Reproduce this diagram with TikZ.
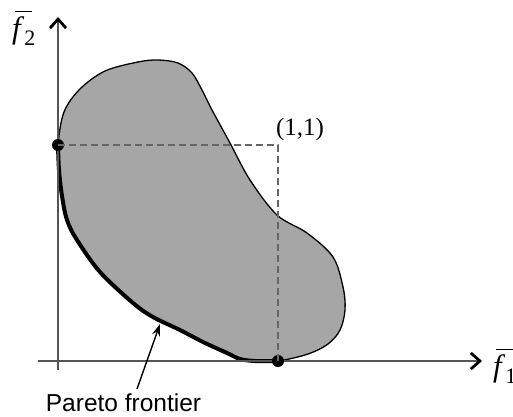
\documentclass[tikz,border=0pt]{standalone}
\usepackage{fontspec}
\setmainfont{Liberation Serif}
\newfontfamily\sansf{Liberation Sans}
\usetikzlibrary{arrows.meta}
\definecolor{regiongray}{HTML}{A6A6A6}
\definecolor{axisgray}{HTML}{555555}
\definecolor{dashgray}{HTML}{666666}
\newcommand{\barf}[1]{{\fontsize{31}{34}\selectfont\rlap{\hspace{3pt}\raisebox{26pt}{\rule{17pt}{1.4pt}}}\textit{f}}\raisebox{-7pt}{\fontsize{22}{24}\selectfont #1}}
\tikzset{
  axisline/.style={axisgray, line width=1.8pt, -{Straight Barb[length=9pt,width=16pt,line width=2.8pt,color=black]}},
  dashline/.style={dashgray, line width=1.8pt, dash pattern=on 7pt off 4pt},
  region/.style={fill=regiongray, draw=black, line width=1.3pt},
  frontierline/.style={black, line width=4pt, line cap=round},
  dotmark/.style={circle, fill=black, inner sep=0pt, minimum size=12pt},
  pointer/.style={black, line width=1.4pt, -{Stealth[length=12pt,width=8pt]}},
}
\begin{document}
\begin{tikzpicture}[x=1pt,y=-1pt]
\useasboundingbox (0,0) rectangle (513,416);
% feasible region
\path[region] plot[smooth cycle, tension=0.55] coordinates {
  (58,145) (64,112) (80,89) (105,71) (138,62) (158,60) (178,63) (192,73)
  (202,90) (212,110) (230,143) (250,180) (277,215) (307,233) (333,257)
  (343,287) (345,310) (340,330) (328,344) (308,354) (278,361)
  (255,361) (240,359) (227,353) (203,342) (180,330) (153,317) (133,303)
  (100,272) (77,240) (67,220) (62,196) (59,170)};
% pareto frontier
\draw[frontierline] plot[smooth, tension=0.55] coordinates {
  (278,361) (255,361) (240,359) (227,353) (203,342) (180,330) (153,317)
  (133,303) (100,272) (77,240) (67,220) (62,196) (59,170) (58,145)};
% axes
\coordinate (xs) at (38,361);
\coordinate (xe) at (482,361);
\coordinate (ys) at (58,370);
\coordinate (ye) at (58,17);
\draw[axisline] (xs) -- (xe);
\draw[axisline] (ys) -- (ye);
% points
\node[dotmark] (A) at (58,145) {};
\node[dotmark] (B) at (278,361) {};
\coordinate (C) at (278,145);
\draw[dashline] (A.center) -- (C) -- (B.center);
% labels
\node[anchor=base, inner sep=0pt] (one) at (300,135) {\fontsize{25}{28}\selectfont (1,1)};
\node[anchor=base west, inner sep=0pt] (f2) at (12,38) {\barf{2}};
\node[anchor=base west, inner sep=0pt] (f1) at (493,376) {\barf{1}};
\node[anchor=base, inner sep=0pt] (pf) at (123.5,411.5) {\sansf\fontsize{24.5}{28}\selectfont Pareto frontier};
\coordinate (ptail) at (137,389);
\coordinate (ptip) at (160,324);
\draw[pointer] (ptail) -- (ptip);
\end{tikzpicture}
\end{document}
